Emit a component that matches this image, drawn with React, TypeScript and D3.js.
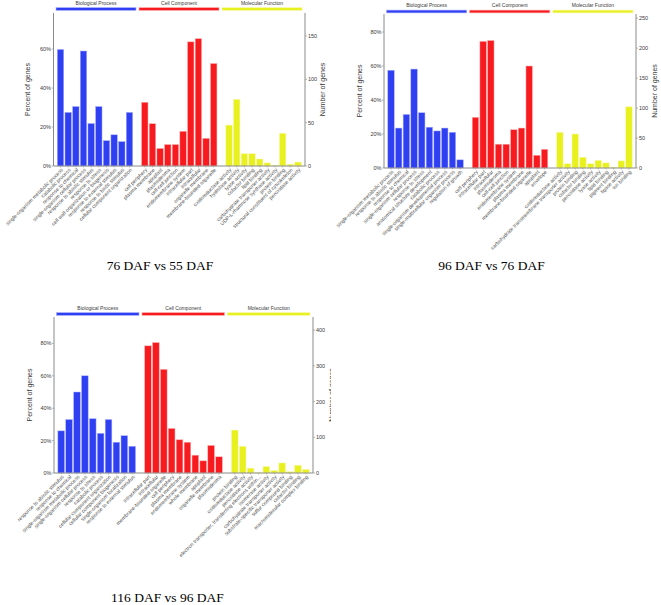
import React from "react";
import * as d3 from "d3";

// ---------- DATA ----------
const groupNames = ["Biological Process", "Cell Component", "Molecular Function"];

// Panel A: 76 DAF vs 55 DAF
const aBioLabels = ["single-organism metabolic process", "catabolic process", "response to chemical", "single-organism cellular process", "response to abiotic stimulus", "response to stress", "cell wall organization or biogenesis", "response to external stimulus", "response to biotic stimulus", "cellular component organization"];
const aBioPct = [59.8, 27.5, 30.5, 59, 21.8, 30.5, 13, 16, 12.5, 27.5];
const aCellLabels = ["cell periphery", "plasma membrane", "apoplast", "plasmodesma", "cell-cell junction", "endomembrane system", "intracellular part", "intracellular", "organelle membrane", "membrane-bounded organelle"];
const aCellPct = [32.7, 21.7, 9, 11, 11, 17.8, 63.7, 65.3, 14.2, 52.6];
const aMolLabels = ["oxidoreductase activity", "hydrolase activity", "lyase activity", "cofactor binding", "lipid binding", "carbohydrate transporter activity", "UDP-L-rhamnose synthase activity", "protein binding", "structural constituent of cytoskeleton", "peroxidase activity"];
const aMolPct = [21, 34.2, 6.3, 6.3, 3.6, 1.6, 0.4, 16.8, 0.9, 2];
const aPctTicks = [0, 20, 40, 60];
const aGeneTicks = [0, 50, 100, 150];

// Panel B: 96 DAF vs 76 DAF
const bBioLabels = ["single-organism metabolic process", "response to abiotic stimulus", "response to chemical", "single-organism cellular process", "response to stress", "anatomical structure development", "catabolic process", "single-organism developmental process", "single-multicellular organism process", "regulation of growth"];
const bBioPct = [57.5, 23.5, 31.5, 58.2, 32.5, 24, 21.8, 23.5, 21, 4.8];
const bCellLabels = ["cell periphery", "intracellular part", "intracellular", "plasmodesma", "cell-cell junction", "endomembrane system", "plasma membrane", "membrane-bounded organelle", "apoplast", "envelope"];
const bCellPct = [29.8, 74.5, 75, 14, 14, 22.5, 23.5, 60, 7.5, 11];
const bMolLabels = ["oxidoreductase activity", "carbohydrate transmembrane transporter activity", "protein binding", "cofactor binding", "peroxidase activity", "lyase activity", "lipid binding", "pigment binding", "ligase activity", "ion binding"];
const bMolPct = [21, 2.5, 20, 6.3, 2.5, 4.5, 3, 0.5, 4.2, 36];
const bPctTicks = [0, 20, 40, 60, 80];
const bGeneTicks = [0, 50, 100, 150, 200, 250];

// Panel C: 116 DAF vs 96 DAF
const cBioLabels = ["response to abiotic stimulus", "response to chemical", "single-organism metabolic process", "single-organism cellular process", "response to stress", "catabolic process", "cellular component organization", "cellular component biogenesis", "single-organism localization", "response to external stimulus"];
const cBioPct = [26, 33, 50, 60, 33.5, 24.5, 33, 19, 23, 16.5];
const cCellLabels = ["intracellular part", "intracellular", "membrane-bounded organelle", "cell periphery", "plasma membrane", "endomembrane system", "whole membrane", "apoplast", "organelle membrane", "plasmodesma"];
const cCellPct = [78.5, 80.5, 64, 27.5, 20.5, 19, 11, 7.5, 17, 10];
const cMolLabels = ["protein binding", "oxidoreductase activity", "peroxidase activity", "electron transporter, transferring electrons within...", "isomerase activity", "carbohydrate transporter activity", "substrate-specific transporter activity", "sulfur compound binding", "cofactor binding", "macromolecular complex binding"];
const cMolPct = [26.5, 16.5, 3, 0.3, 4, 1.5, 6.2, 0.8, 4.8, 2.2];
const cPctTicks = [0, 20, 40, 60, 80];
const cGeneTicks = [0, 100, 200, 300, 400];

const colors = ["#2f3ff2", "#f71b1f", "#e8f01e"];
const strokes = ["#aab0fb", "#fbb0b2", "#f6f9b0"];

type PanelCfg = {
  id: string;
  title: string;
  left: number; right: number; top: number; bottom: number;
  pctMax: number; geneMax: number;
  pctTicks: number[]; geneTicks: number[];
  headerY: number; headerTextY: number;
  ylabelX: number; rlabelX: number; clipRight: number;
  titleX: number; titleY: number;
  labels: string[][]; values: number[][];
};

const panels: PanelCfg[] = [
  {
    id: "a",
    title: "76 DAF vs 55 DAF",
    left: 53.5, right: 305, top: 13, bottom: 166,
    pctMax: 78.5, geneMax: 176.5,
    pctTicks: aPctTicks, geneTicks: aGeneTicks,
    headerY: 9, headerTextY: 5,
    ylabelX: 30, rlabelX: 325, clipRight: 661,
    titleX: 160, titleY: 270,
    labels: [aBioLabels, aCellLabels, aMolLabels],
    values: [aBioPct, aCellPct, aMolPct],
  },
  {
    id: "b",
    title: "96 DAF vs 76 DAF",
    left: 384, right: 636, top: 14, bottom: 168,
    pctMax: 90.6, geneMax: 257,
    pctTicks: bPctTicks, geneTicks: bGeneTicks,
    headerY: 11.5, headerTextY: 7,
    ylabelX: 361.5, rlabelX: 656.5, clipRight: 661,
    titleX: 491.5, titleY: 270,
    labels: [bBioLabels, bCellLabels, bMolLabels],
    values: [bBioPct, bCellPct, bMolPct],
  },
  {
    id: "c",
    title: "116 DAF vs 96 DAF",
    left: 54, right: 313, top: 317, bottom: 473,
    pctMax: 96.3, geneMax: 437,
    pctTicks: cPctTicks, geneTicks: cGeneTicks,
    headerY: 314, headerTextY: 309.5,
    ylabelX: 32, rlabelX: 334, clipRight: 331,
    titleX: 167.5, titleY: 602,
    labels: [cBioLabels, cCellLabels, cMolLabels],
    values: [cBioPct, cCellPct, cMolPct],
  },
];

const sans = "'Liberation Sans', Arial, sans-serif";

function Panel({ p }: { p: PanelCfg }) {
  const slots: { g: number; i: number; key: string }[] = [];
  p.labels.forEach((lab, g) => {
    lab.forEach((_, i) => slots.push({ g, i, key: `${g}-${i}` }));
    if (g < 2) slots.push({ g: -1, i: -1, key: `gap-${g}` });
  });
  const x = d3
    .scaleBand<string>()
    .domain(slots.map((s) => s.key))
    .range([p.left + 1.5, p.right - 1.5])
    .paddingInner(0.16)
    .paddingOuter(0.3);
  const y = d3.scaleLinear().domain([0, p.pctMax]).range([p.bottom, p.top]);
  const y2 = d3.scaleLinear().domain([0, p.geneMax]).range([p.bottom, p.top]);
  const hx0 = p.left + 1;
  const hx1 = p.right - 1.5;
  const third = (hx1 - hx0) / 3;
  const midY = (p.top + p.bottom) / 2;
  const axisCol = "#8a8a8a";
  const txtCol = "#3a3a3a";
  const clipId = `clip-${p.id}`;

  return (
    <g>
      <defs>
        <clipPath id={clipId}>
          <rect x={0} y={0} width={p.clipRight} height={605} />
        </clipPath>
      </defs>
      {groupNames.map((name, g) => (
        <g key={name}>
          <rect
            x={hx0 + g * third + 1.5}
            y={p.headerY - 1.4}
            width={third - 3}
            height={2.8}
            fill={colors[g]}
            stroke={strokes[g]}
            strokeWidth={0.6}
          />
          <text
            x={hx0 + g * third + third / 2}
            y={p.headerTextY}
            fontSize={5}
            fontFamily={sans}
            fill={txtCol}
            textAnchor="middle"
          >
            {name}
          </text>
        </g>
      ))}
      {slots
        .filter((s) => s.g >= 0)
        .map((s) => {
          const v = p.values[s.g][s.i];
          return (
            <rect
              key={s.key}
              x={x(s.key)!}
              y={y(v)}
              width={x.bandwidth()}
              height={p.bottom - y(v)}
              fill={colors[s.g]}
              stroke={strokes[s.g]}
              strokeWidth={0.5}
            />
          );
        })}
      <line x1={p.left} x2={p.left} y1={p.top} y2={p.bottom} stroke={axisCol} strokeWidth={1} />
      <line x1={p.right} x2={p.right} y1={p.top} y2={p.bottom} stroke={axisCol} strokeWidth={1} />
      <line x1={p.left} x2={p.right} y1={p.bottom} y2={p.bottom} stroke={axisCol} strokeWidth={1} />
      {p.pctTicks.map((t) => (
        <g key={`l${t}`}>
          <line x1={p.left - 2} x2={p.left} y1={y(t)} y2={y(t)} stroke={axisCol} strokeWidth={0.6} />
          <text
            x={p.left - 2.5}
            y={y(t)}
            dy="0.35em"
            fontSize={5.5}
            fontFamily={sans}
            fill={txtCol}
            textAnchor="end"
          >
            {`${t}%`}
          </text>
        </g>
      ))}
      {p.geneTicks.map((t) => (
        <g key={`r${t}`}>
          <line x1={p.right} x2={p.right + 2} y1={y2(t)} y2={y2(t)} stroke={axisCol} strokeWidth={0.6} />
          <text
            x={p.right + 3}
            y={y2(t)}
            dy="0.35em"
            fontSize={5.5}
            fontFamily={sans}
            fill={txtCol}
            textAnchor="start"
          >
            {t}
          </text>
        </g>
      ))}
      <text
        transform={`translate(${p.ylabelX},${midY}) rotate(-90)`}
        fontSize={7}
        fontFamily={sans}
        fill={txtCol}
        textAnchor="middle"
      >
        Percent of genes
      </text>
      <g clipPath={`url(#${clipId})`}>
        <text
          transform={`translate(${p.rlabelX},${midY}) rotate(-90)`}
          fontSize={7}
          fontFamily={sans}
          fill={txtCol}
          textAnchor="middle"
        >
          Number of genes
        </text>
      </g>
      {slots
        .filter((s) => s.g >= 0)
        .map((s) => {
          const cx = x(s.key)! + x.bandwidth() / 2;
          return (
            <g key={`t${s.key}`}>
              <line x1={cx} x2={cx} y1={p.bottom} y2={p.bottom + 1.5} stroke={axisCol} strokeWidth={0.5} />
              <text
                transform={`translate(${cx + 1.5},${p.bottom + 3}) rotate(-45)`}
                fontSize={5.1}
                fontFamily={sans}
                fill="#4a4a4a"
                textAnchor="end"
                dy="0.35em"
              >
                {p.labels[s.g][s.i]}
              </text>
            </g>
          );
        })}
      <text
        x={p.titleX}
        y={p.titleY}
        fontSize={13.5}
        fontFamily="'Liberation Serif', 'Times New Roman', serif"
        fill="#000"
        textAnchor="middle"
      >
        {p.title}
      </text>
    </g>
  );
}

export default function App() {
  return (
    <svg
      width={661}
      height={605}
      style={{ position: "absolute", left: 0, top: 0, background: "#fff" }}
    >
      <rect x={0} y={0} width={661} height={605} fill="#fff" />
      {panels.map((p) => (
        <Panel key={p.title} p={p} />
      ))}
    </svg>
  );
}
